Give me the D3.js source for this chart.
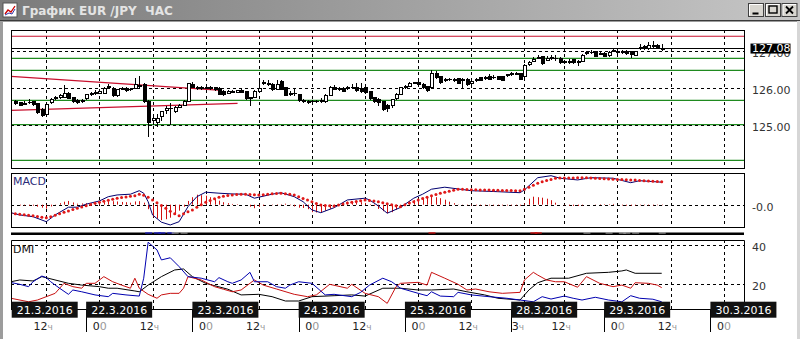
<!DOCTYPE html>
<html>
<head>
<meta charset="utf-8">
<script src="https://cdn.jsdelivr.net/npm/d3@7"></script>
<style>
  body { margin: 0; background: #fff; }
  text { font-family: "DejaVu Sans", Verdana, sans-serif; }
</style>
</head>
<body>
<div id="chart"></div>
<script>
// hourly bars, index counted from 21.3 00h (weekend gap removed)
const firstBar = 5;
const open = [125.62,125.59,125.56,125.60,125.62,125.57,125.40,125.28,125.59,125.71,
  125.74,125.75,125.86,125.74,125.66,125.62,125.70,125.84,125.84,125.86,
  125.86,126.02,125.98,125.78,125.98,125.98,125.95,125.99,126.06,126.08,
  125.64,125.12,125.05,125.22,125.38,125.45,125.36,125.47,125.53,125.64,
  126.10,126.00,125.98,126.00,125.99,126.00,125.98,125.90,125.86,125.90,
  125.88,125.93,125.90,125.73,125.74,125.89,126.12,126.12,126.10,125.95,
  126.16,126.00,125.85,125.84,125.81,125.66,125.64,125.62,125.63,125.62,
  125.63,125.80,126.02,125.96,125.99,125.98,126.00,126.02,125.97,126.00,
  125.90,125.74,125.69,125.62,125.52,125.53,125.70,125.82,126.00,126.05,
  126.12,126.14,126.10,126.04,126.00,126.40,126.30,126.20,126.22,126.22,
  126.26,126.20,126.23,126.12,126.20,126.29,126.25,126.32,126.28,126.30,
  126.30,126.33,126.36,126.38,126.38,126.30,126.64,126.72,126.80,126.84,
  126.75,126.80,126.80,126.80,126.70,126.71,126.76,126.70,126.71,126.93,
  126.95,126.99,126.93,126.93,126.87,126.98,126.98,126.96,126.99,126.98,
  126.88,127.08,127.10,127.07,127.14,127.14,127.03];
const high = [125.66,125.62,125.63,125.70,125.65,125.60,125.45,125.58,125.72,125.78,
  125.82,126.08,125.88,125.76,125.70,125.70,125.84,125.90,125.94,125.98,
  126.02,126.10,126.02,125.98,126.02,126.01,126.00,126.27,126.32,126.12,
  125.66,125.22,125.30,125.38,125.50,125.60,125.50,125.56,125.68,126.14,
  126.15,126.04,126.05,126.06,126.06,126.03,126.02,125.95,125.93,125.94,
  125.95,125.96,125.92,125.76,125.93,126.20,126.20,126.20,126.12,126.20,
  126.22,126.02,125.92,126.00,125.83,125.70,125.67,125.66,125.67,125.72,
  125.82,126.05,126.08,126.02,126.02,126.06,126.10,126.12,126.14,126.06,
  125.92,125.76,125.72,125.64,125.56,125.70,125.86,126.03,126.08,126.16,
  126.17,126.18,126.14,126.06,126.49,126.46,126.32,126.26,126.28,126.28,
  126.28,126.27,126.26,126.23,126.26,126.30,126.33,126.37,126.35,126.33,
  126.32,126.38,126.43,126.42,126.40,126.65,126.72,126.84,126.88,126.87,
  126.86,126.88,126.90,126.83,126.76,126.77,126.79,126.75,126.92,127.00,
  127.02,127.01,126.98,126.96,126.99,127.08,127.01,127.03,127.02,127.01,
  127.01,127.20,127.16,127.25,127.27,127.18,127.18];
const low = [125.54,125.50,125.53,125.57,125.52,125.30,125.22,125.22,125.55,125.68,
  125.70,125.72,125.70,125.60,125.57,125.58,125.68,125.78,125.80,125.82,
  125.84,125.98,125.75,125.76,125.93,125.88,125.92,125.97,126.00,125.60,
  124.66,124.98,124.93,125.10,125.30,125.00,125.33,125.44,125.50,125.62,
  126.00,125.95,125.95,125.96,125.95,125.92,125.80,125.78,125.82,125.86,
  125.85,125.86,125.68,125.50,125.72,125.86,126.08,126.05,125.92,125.93,
  125.93,125.78,125.78,125.78,125.62,125.60,125.57,125.58,125.60,125.58,
  125.60,125.78,125.94,125.92,125.88,125.95,125.97,125.90,125.86,125.84,
  125.68,125.60,125.52,125.36,125.35,125.46,125.68,125.80,125.98,126.02,
  126.10,126.06,125.97,125.90,125.98,126.24,126.10,126.16,126.18,126.15,
  126.10,125.99,126.05,126.00,126.16,126.18,126.22,126.20,126.24,126.20,
  126.19,126.30,126.33,126.34,126.20,126.28,126.60,126.70,126.78,126.63,
  126.72,126.76,126.74,126.66,126.66,126.65,126.65,126.60,126.69,126.90,
  126.92,126.84,126.88,126.84,126.85,126.96,126.92,126.93,126.90,126.80,
  126.86,127.04,127.02,127.03,127.08,127.06,127.00];
const close = [125.57,125.52,125.58,125.61,125.55,125.34,125.26,125.55,125.68,125.73,
  125.78,125.84,125.72,125.64,125.60,125.65,125.82,125.82,125.88,125.89,
  125.99,126.04,125.78,125.95,125.96,125.92,125.96,126.08,126.04,125.64,
  125.05,125.17,125.18,125.36,125.43,125.44,125.46,125.53,125.64,126.12,
  126.02,125.98,126.00,125.99,126.02,125.95,125.83,125.82,125.89,125.90,
  125.92,125.88,125.70,125.70,125.89,125.99,126.15,126.10,125.95,126.10,
  125.95,125.80,125.83,125.86,125.65,125.64,125.60,125.63,125.64,125.66,
  125.79,126.00,125.96,125.98,125.90,126.02,126.02,125.94,125.91,125.88,
  125.72,125.63,125.59,125.42,125.44,125.68,125.82,126.00,126.03,126.12,
  126.14,126.08,126.00,125.93,126.40,126.27,126.14,126.22,126.24,126.22,
  126.12,126.22,126.08,126.18,126.22,126.20,126.28,126.23,126.29,126.22,
  126.21,126.35,126.38,126.37,126.23,126.62,126.68,126.78,126.82,126.67,
  126.80,126.82,126.79,126.69,126.71,126.70,126.68,126.71,126.89,126.95,
  126.97,126.86,126.92,126.86,126.96,127.02,126.97,126.99,126.92,126.90,
  126.98,127.10,127.12,127.16,127.12,127.10,127.08];
const lastPrice = 127.08;

// drawn levels and trendlines
const greenLevels = [126.80, 126.475, 125.66, 125.0, 124.03];
const redLevels = [127.40];
const trendLines = [[[4, 126.31], [51.7, 125.93]], [[4, 125.39], [55.2, 125.58]]];
const priceTicks = [125, 126, 127];

// MACD
const macdStart = 4;
const macdLine = [[4,-0.032],[6,-0.041],[9,-0.048],[12,-0.068],[14,-0.041],[17,-0.010],[19,-0.010],
  [21,0.002],[24,0.015],[26,0.032],[28,0.039],[31,0.042],[33,0.056],[34,0.046],[35,0.012],[36,-0.041],
  [38,-0.070],[40,-0.081],[42,-0.068],[44,-0.008],[46,0.032],[48,0.050],[51,0.046],[54,0.043],[57,0.042],
  [59,0.026],[60,0.030],[63,0.042],[65,0.048],[68,0.032],[70,0.012],[72,-0.021],[74,-0.032],[77,-0.012],
  [80,0.019],[84,0.026],[85,0.019],[87,-0.005],[89,-0.034],[92,-0.011],[95,0.026],[97,0.042],[99,0.062],
  [102,0.070],[105,0.063],[108,0.056],[114,0.052],[119,0.048],[120,0.059],[123,0.108],[126,0.116],
  [128,0.106],[132,0.099],[135,0.108],[140,0.106],[144,0.088],[146,0.096],[151,0.090]];
const signal = [-0.034,-0.036,-0.038,-0.040,-0.042,-0.044,-0.047,-0.050,-0.052,-0.048,
  -0.042,-0.036,-0.030,-0.025,-0.019,-0.014,-0.009,-0.004,0.001,0.006,
  0.010,0.014,0.018,0.022,0.026,0.029,0.031,0.034,0.036,0.042,
  0.038,0.030,0.019,0.008,-0.003,-0.014,-0.026,-0.036,-0.044,-0.036,
  -0.028,-0.021,-0.010,0.000,0.010,0.017,0.024,0.030,0.034,0.037,
  0.039,0.041,0.042,0.042,0.041,0.040,0.039,0.040,0.042,0.044,
  0.045,0.046,0.044,0.042,0.039,0.032,0.025,0.019,0.012,0.005,
  -0.001,-0.003,-0.004,-0.005,-0.001,0.003,0.007,0.010,0.013,0.016,
  0.019,0.017,0.015,0.012,0.008,0.004,0.000,-0.004,-0.008,0.000,
  0.007,0.012,0.019,0.025,0.030,0.036,0.041,0.046,0.050,0.054,
  0.058,0.062,0.062,0.061,0.060,0.060,0.059,0.059,0.059,0.058,
  0.058,0.057,0.057,0.057,0.056,0.056,0.062,0.070,0.078,0.086,
  0.092,0.097,0.101,0.106,0.107,0.107,0.107,0.107,0.108,0.108,
  0.108,0.107,0.106,0.105,0.104,0.103,0.102,0.101,0.101,0.100,
  0.099,0.099,0.097,0.096,0.095,0.094,0.093,0.092];
const hist = [0.002,0.000,-0.003,-0.003,-0.004,-0.004,-0.008,-0.012,-0.016,-0.007,
  0.001,0.006,0.012,0.015,0.009,0.004,0.005,0.006,0.005,0.005,
  0.005,0.010,0.014,0.014,0.013,0.011,0.010,0.008,0.013,0.014,
  0.008,-0.018,-0.050,-0.056,-0.062,-0.058,-0.052,-0.040,-0.024,-0.008,
  0.015,0.030,0.040,0.038,0.036,0.030,0.022,0.016,0.010,0.006,
  0.003,0.002,0.000,0.000,-0.008,-0.014,-0.009,-0.004,0.000,-0.002,
  0.002,0.002,0.004,-0.002,-0.007,-0.012,-0.013,-0.018,-0.030,-0.031,
  -0.030,-0.024,-0.016,-0.007,0.002,0.009,0.012,0.013,0.012,0.010,
  0.007,0.002,-0.005,-0.017,-0.026,-0.034,-0.030,-0.020,-0.008,0.005,
  0.014,0.018,0.024,0.028,0.030,0.032,0.030,0.026,0.020,0.012,
  0.006,0.001,-0.001,-0.002,-0.003,-0.003,-0.003,-0.003,-0.003,-0.003,
  -0.003,-0.003,-0.003,-0.003,-0.003,-0.004,0.005,0.024,0.032,0.030,
  0.028,0.024,0.018,0.008,0.000,-0.002,-0.004,-0.005,-0.005,-0.003,
  0.000,0.000,0.001,0.002,0.002,0.002,0.003,0.000,-0.003,-0.004,
  -0.004,-0.003,-0.002,-0.002,-0.003,-0.003,-0.002,-0.002];

// DMI
const minusDI = [[4,20.9],[6,20.0],[8,18.8],[9,21.3],[11,24.2],[12,23.4],[13,21.3],[15,18.0],[17,14.9],
  [18,17.1],[20,16.2],[23,14.6],[26,13.7],[27,15.4],[30,14.6],[33,14.0],[34,23.1],[35,41.4],[37,37.5],
  [38,32.4],[40,33.5],[42,29.0],[44,23.9],[47,23.1],[50,21.3],[51,23.4],[53,21.3],[54,20.5],[56,22.2],
  [58,26.1],[59,21.3],[62,21.3],[64,18.8],[66,18.0],[67,19.6],[69,21.3],[72,20.5],[75,14.6],[77,14.9],
  [81,13.7],[83,15.9],[85,19.6],[88,23.1],[90,21.3],[92,18.0],[96,15.4],[98,14.2],[99,16.2],[101,14.0],
  [104,13.7],[105,15.9],[108,14.6],[112,13.7],[116,12.9],[119,12.0],[122,11.1],[124,13.7],[126,12.5],
  [129,14.0],[131,12.9],[133,12.0],[136,13.4],[139,12.0],[142,11.1],[144,14.2],[146,12.9],[149,12.4],[151,11.1]];
const plusDI = [[4,12.9],[8,11.1],[10,12.0],[12,13.7],[14,15.4],[16,20.5],[18,18.8],[20,18.0],[21,20.5],
  [23,20.5],[25,23.9],[27,21.3],[29,19.6],[31,18.0],[32,23.1],[33,18.0],[35,14.9],[37,12.9],[38,14.6],
  [40,15.4],[42,15.4],[43,18.0],[44,23.9],[47,22.2],[50,18.8],[52,17.5],[54,16.2],[56,17.1],[59,22.2],
  [61,19.6],[64,17.6],[68,14.9],[71,13.7],[73,14.6],[76,20.0],[80,18.0],[81,20.0],[84,15.4],[87,13.7],
  [89,10.3],[91,18.8],[92,20.5],[96,21.0],[98,19.6],[99,26.1],[102,23.1],[105,20.0],[107,17.1],[109,17.6],
  [112,16.2],[115,15.4],[119,15.9],[120,22.2],[122,26.1],[123,24.7],[125,22.2],[127,21.3],[129,21.3],
  [132,18.5],[134,23.9],[137,20.5],[140,18.8],[142,19.6],[144,18.0],[145,20.8],[148,20.5],[150,19.6],[151,18.3]];
const adx = [[4,21.3],[6,22.2],[9,21.7],[11,23.9],[17,20.5],[20,19.6],[24,18.8],[26,18.0],[28,18.0],
  [32,16.6],[33,16.2],[35,19.6],[38,23.9],[41,27.3],[43,27.8],[45,23.9],[48,20.5],[53,17.5],[56,14.6],
  [60,14.9],[63,13.7],[66,11.5],[69,11.5],[72,13.7],[77,14.2],[81,14.6],[84,14.0],[88,18.0],[92,18.0],
  [96,17.1],[99,17.1],[104,17.6],[107,16.2],[111,14.6],[114,12.9],[119,12.0],[121,17.1],[123,20.8],
  [126,23.1],[130,23.1],[134,25.6],[139,26.1],[142,26.8],[143,27.3],[145,25.6],[151,25.6]];
const dmiTicks = [20, 40];

// time axis
const gridBars = [12,24,36,48,60,72,84,96,108,120,129,141,153,165];
const gridHours = ["12","0","12","0","12","0","12","0","12","3","12","0","12","0"];
const dayBars = [21,45,69,93,117,138,162];
const dayNames = ["22.3.2016","23.3.2016","24.3.2016","25.3.2016","28.3.2016","29.3.2016","30.3.2016"];
const firstDay = "21.3.2016";

const W = 800, H = 339;
const left = 11, right = 744;
const main = {top: 30, bottom: 168};
const macdP = {top: 173, bottom: 227};
const dmiP = {top: 240, bottom: 309};

const svg = d3.select("#chart").append("svg")
  .attr("width", W).attr("height", H);

const x = d3.scaleLinear().domain([12, 165]).range([46.3, 723.7]);
const y = d3.scaleLinear().domain([125, 127]).range([124.7, 51]);
const yM = d3.scaleLinear().domain([0, 0.1]).range([204.7, 179.7]);
const yD = d3.scaleLinear().domain([20, 40]).range([284.3, 245]);

const defs = svg.append("defs");
const grad = defs.append("linearGradient").attr("id", "tb");
grad.append("stop").attr("offset", "0%").attr("stop-color", "#7b7b7b");
grad.append("stop").attr("offset", "100%").attr("stop-color", "#c6c6c6");
[["clipMain", main], ["clipMacd", macdP], ["clipDmi", dmiP]].forEach(([id, p]) => {
  defs.append("clipPath").attr("id", id).append("rect")
    .attr("x", left).attr("y", p.top).attr("width", right - left).attr("height", p.bottom - p.top);
});

// window frame + title bar
svg.append("rect").attr("width", W).attr("height", H).attr("fill", "#fff");
svg.append("rect").attr("width", W).attr("height", 20).attr("fill", "url(#tb)");
svg.append("rect").attr("y", 20).attr("width", W).attr("height", 1.5).attr("fill", "#3a3a3a");
svg.append("rect").attr("y", 21).attr("width", 3).attr("height", H - 21).attr("fill", "#9c9c9c");
svg.append("rect").attr("x", 797).attr("y", 21).attr("width", 3).attr("height", H - 21).attr("fill", "#d6d6d6");

const icon = svg.append("g").attr("transform", "translate(3,3)");
icon.append("rect").attr("width", 14).attr("height", 14).attr("fill", "#fff").attr("stroke", "#555");
icon.append("polyline").attr("points", "2,11 5,7 8,9 12,3").attr("fill", "none").attr("stroke", "#c00").attr("stroke-width", 1.3);
icon.append("polyline").attr("points", "2,12 6,10 9,11 12,6").attr("fill", "none").attr("stroke", "#33a").attr("stroke-width", 1);

svg.append("text").attr("x", 22).attr("y", 15)
  .style("white-space", "pre")
  .attr("font-size", 12).attr("font-weight", "bold").attr("fill", "#e4e4e4")
  .attr("font-family", "Liberation Sans, Arial, sans-serif")
  .text("График EUR /JPY  ЧАС");

[748.5, 765.5, 782].forEach((bx, i) => {
  const b = svg.append("g").attr("transform", `translate(${bx},3.5)`);
  b.append("rect").attr("width", 15).attr("height", 13).attr("fill", "#d8d6d0").attr("stroke", "#404040");
  b.append("path").attr("d", "M1,12V1H14").attr("fill", "none").attr("stroke", "#fff");
  if (i === 0) b.append("rect").attr("x", 4).attr("y", 9).attr("width", 6).attr("height", 2).attr("fill", "#000");
  if (i === 1) b.append("rect").attr("x", 3.5).attr("y", 2.5).attr("width", 8).attr("height", 7).attr("fill", "none").attr("stroke", "#000").attr("stroke-width", 1.4);
  if (i === 2) b.append("path").attr("d", "M4,3L11,10M11,3L4,10").attr("stroke", "#000").attr("stroke-width", 1.8);
});

// vertical grid in every panel
[main, macdP, dmiP].forEach(p => {
  svg.append("g").selectAll("line").data(gridBars.filter(b => x(b) < right)).join("line")
    .attr("x1", d => Math.round(x(d)) + 0.5).attr("x2", d => Math.round(x(d)) + 0.5)
    .attr("y1", p.top).attr("y2", p.bottom)
    .attr("stroke", "#000").attr("stroke-dasharray", "3,3");
});

// ---------- price panel ----------
const gMain = svg.append("g").attr("clip-path", "url(#clipMain)");
gMain.selectAll(".green").data(greenLevels).join("line")
  .attr("x1", left).attr("x2", right)
  .attr("y1", d => y(d)).attr("y2", d => y(d))
  .attr("stroke", "#1f8a1f").attr("stroke-width", 1.3);
gMain.selectAll(".hgrid").data(priceTicks).join("line")
  .attr("x1", left).attr("x2", right)
  .attr("y1", d => Math.round(y(d)) + 0.5).attr("y2", d => Math.round(y(d)) + 0.5)
  .attr("stroke", "#000").attr("stroke-dasharray", "3,3");
gMain.selectAll(".redlvl").data(redLevels).join("line")
  .attr("x1", left).attr("x2", right)
  .attr("y1", d => y(d)).attr("y2", d => y(d))
  .attr("stroke", "#c8102e").attr("stroke-width", 1.2);
gMain.selectAll(".trend").data(trendLines).join("line")
  .attr("x1", d => x(d[0][0])).attr("y1", d => y(d[0][1]))
  .attr("x2", d => x(d[1][0])).attr("y2", d => y(d[1][1]))
  .attr("stroke", "#c8102e").attr("stroke-width", 1.2);
gMain.append("line").attr("x1", left).attr("x2", right)
  .attr("y1", Math.round(y(lastPrice)) + 0.5).attr("y2", Math.round(y(lastPrice)) + 0.5)
  .attr("stroke", "#000");

const bars = open.map((o, i) => ({i: firstBar + i, o, h: high[i], l: low[i], c: close[i]}));
const cg = gMain.append("g").attr("shape-rendering", "crispEdges");
cg.selectAll(".wick").data(bars).join("line")
  .attr("x1", d => Math.round(x(d.i)) + 0.5).attr("x2", d => Math.round(x(d.i)) + 0.5)
  .attr("y1", d => y(d.h)).attr("y2", d => y(d.l))
  .attr("stroke", "#000");
cg.selectAll(".body").data(bars).join("rect")
  .attr("x", d => Math.round(x(d.i)) - 1)
  .attr("width", 3)
  .attr("y", d => y(Math.max(d.o, d.c)))
  .attr("height", d => Math.max(0.5, Math.abs(y(d.o) - y(d.c))))
  .attr("fill", d => d.c >= d.o ? "#fff" : "#000")
  .attr("stroke", "#000");

svg.append("rect").attr("x", left + 0.5).attr("y", main.top + 0.5)
  .attr("width", right - left).attr("height", main.bottom - main.top)
  .attr("fill", "none").attr("stroke", "#000");

svg.append("g").attr("transform", `translate(${right},0)`)
  .call(d3.axisRight(y).tickValues(priceTicks).tickFormat(d3.format(".2f")).tickSize(0).tickPadding(8))
  .call(g => g.select(".domain").remove())
  .call(g => g.selectAll("text").attr("dy", "0.5em").attr("fill", "#333").attr("font-size", 11)
    .attr("font-family", "DejaVu Sans, Verdana, sans-serif"));
svg.append("rect").attr("x", 750.5).attr("y", y(lastPrice) - 4.5).attr("width", 40).attr("height", 10).attr("fill", "#000");
svg.append("text").attr("x", 752).attr("y", y(lastPrice) + 4.3)
  .attr("font-size", 11).attr("fill", "#fff").text(lastPrice.toFixed(2));

// ---------- MACD ----------
const gMacd = svg.append("g").attr("clip-path", "url(#clipMacd)");
gMacd.append("line").attr("x1", left).attr("x2", right)
  .attr("y1", Math.round(yM(0)) + 0.5).attr("y2", Math.round(yM(0)) + 0.5)
  .attr("stroke", "#000").attr("stroke-dasharray", "3,3");
gMacd.selectAll(".hb").data(hist).join("line")
  .attr("x1", (d, i) => Math.round(x(macdStart + i)) + 0.5).attr("x2", (d, i) => Math.round(x(macdStart + i)) + 0.5)
  .attr("y1", yM(0)).attr("y2", d => yM(d))
  .attr("stroke", "#d01010");
gMacd.append("path").datum(macdLine)
  .attr("d", d3.line().x(d => x(d[0])).y(d => yM(d[1])))
  .attr("fill", "none").attr("stroke", "#000070").attr("stroke-width", 1);
gMacd.selectAll(".sig").data(signal).join("circle")
  .attr("cx", (d, i) => x(macdStart + i)).attr("cy", d => yM(d))
  .attr("r", 1.5).attr("fill", "#e01818");
svg.append("rect").attr("x", left + 0.5).attr("y", macdP.top + 0.5)
  .attr("width", right - left).attr("height", macdP.bottom - macdP.top)
  .attr("fill", "none").attr("stroke", "#000");
svg.append("text").attr("x", 13).attr("y", 185).attr("font-size", 11).attr("fill", "#2a2a78").text("MACD");
svg.append("g").attr("transform", `translate(${right},0)`)
  .call(d3.axisRight(yM).tickValues([0]).tickFormat(() => "-0.0").tickSize(0).tickPadding(8))
  .call(g => g.select(".domain").remove())
  .call(g => g.selectAll("text").attr("dy", "0.5em").attr("fill", "#333").attr("font-size", 11)
    .attr("font-family", "DejaVu Sans, Verdana, sans-serif"));

// splitter bar with the strong DMI readings
svg.append("rect").attr("x", left).attr("y", 232.5).attr("width", right - left).attr("height", 2.5).attr("fill", "#000");
[[minusDI, 30, "#2020c0"], [plusDI, 24, "#d01010"], [adx, 25, "#a0a0a0"]].forEach(([s, thr, col]) => {
  svg.append("g").selectAll("rect").data(s.filter(d => d[1] > thr)).join("rect")
    .attr("x", d => x(d[0]) - 3).attr("width", 7).attr("y", 232.3).attr("height", 1.3).attr("fill", col);
});

// ---------- DMI ----------
const gDmi = svg.append("g").attr("clip-path", "url(#clipDmi)");
gDmi.selectAll(".dg").data(dmiTicks).join("line")
  .attr("x1", left).attr("x2", right)
  .attr("y1", d => Math.round(yD(d)) + 0.5).attr("y2", d => Math.round(yD(d)) + 0.5)
  .attr("stroke", "#000").attr("stroke-dasharray", "3,3");
const dl = d3.line().x(d => x(d[0])).y(d => yD(d[1]));
[[adx, "#000"], [plusDI, "#c81010"], [minusDI, "#0000b0"]].forEach(([s, col]) => {
  gDmi.append("path").datum(s).attr("d", dl).attr("fill", "none").attr("stroke", col).attr("stroke-width", 1);
});
svg.append("path")
  .attr("d", `M${left + 0.5},${dmiP.bottom}V${dmiP.top + 0.5}H${right + 0.5}V${dmiP.bottom}`)
  .attr("fill", "none").attr("stroke", "#000");
svg.append("text").attr("x", 13).attr("y", 253).attr("font-size", 11).attr("fill", "#111").text("DMI");
svg.append("g").attr("transform", `translate(${right},0)`)
  .call(d3.axisRight(yD).tickValues(dmiTicks).tickSize(0).tickPadding(8))
  .call(g => g.select(".domain").remove())
  .call(g => g.selectAll("text").attr("dy", "0.5em").attr("fill", "#333").attr("font-size", 11)
    .attr("font-family", "DejaVu Sans, Verdana, sans-serif"));

// ---------- time axis ----------
svg.append("line").attr("x1", left).attr("x2", right).attr("y1", dmiP.bottom + 0.5).attr("y2", dmiP.bottom + 0.5).attr("stroke", "#000");
svg.append("g").selectAll("line").data(dayBars).join("line")
  .attr("x1", d => Math.round(x(d)) + 0.5).attr("x2", d => Math.round(x(d)) + 0.5)
  .attr("y1", dmiP.bottom).attr("y2", 332).attr("stroke", "#000");

const tl = svg.append("g").attr("font-size", 11);
gridBars.forEach((b, i) => {
  const h = gridHours[i];
  const t = tl.append("text").attr("x", x(b - 3) + (h === "0" ? 6.5 : 0.5)).attr("y", 330);
  t.append("tspan").attr("fill", "#222").text(h);
  if (h === "0") t.append("tspan").attr("fill", "#999").text("0");
  else t.append("tspan").attr("fill", "#999").attr("font-size", 9).text("ч");
});

const boxes = [{x0: left + 0.7, name: firstDay}].concat(dayBars.map((b, i) => ({x0: x(b), name: dayNames[i]})));
const bg = svg.append("g").selectAll("g").data(boxes).join("g")
  .attr("transform", d => `translate(${d.x0},301.7)`);
bg.append("rect").attr("width", 66).attr("height", 16).attr("fill", "#111");
bg.append("text").attr("x", 33).attr("y", 12.3).attr("text-anchor", "middle")
  .attr("font-size", 11).attr("fill", "#fff").text(d => d.name);
</script>
</body>
</html>
